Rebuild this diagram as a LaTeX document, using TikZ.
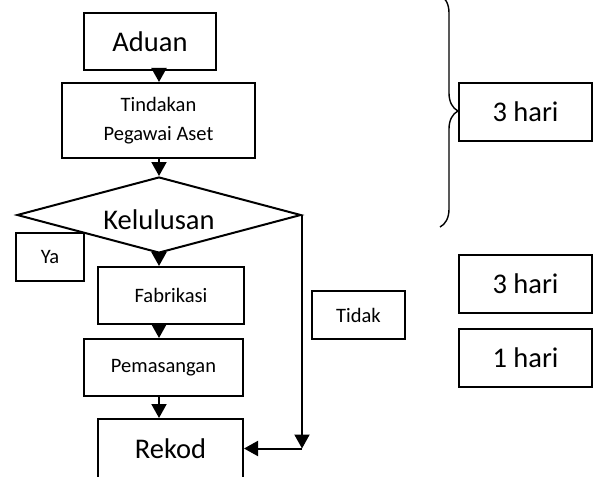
\documentclass[tikz,border=0pt]{standalone}
\usepackage{fontspec}
\setmainfont{Carlito}
\usetikzlibrary{shapes.geometric,arrows.meta,decorations.pathreplacing}

\begin{document}
\begin{tikzpicture}[x=1pt, y=-1pt,
    box/.style = {draw, line width=2pt, inner sep=0pt, align=center},
    big/.style = {font=\fontsize{28.5}{34}\selectfont},
    small/.style = {font=\fontsize{20.5}{29}\selectfont},
    arrow/.style = {line width=2pt, -{Triangle[width=15pt,length=14pt]}}]
        \fill[white] (0,0) rectangle (596,476);
        \useasboundingbox (0,0) rectangle (596,476);
        % flow on the left
        \node[box, big, minimum width=132pt, minimum height=57pt] (aduan) at (150,41.5) {Aduan};
        \node[box, small, minimum width=193pt, minimum height=75pt] (tindakan) at (158.5,120.5) {Tindakan\\Pegawai Aset};
        \node[box, diamond, big, aspect=3.7, minimum width=284pt, minimum height=76pt, text height=30pt] (kelulusan) at (159,215) {Kelulusan};
        \node[box, small, minimum width=68pt, minimum height=48pt] (ya) at (50,257) {Ya};
        \node[box, small, minimum width=146pt, minimum height=57pt] (fabrikasi) at (171,295.5) {Fabrikasi};
        \node[box, small, minimum width=159pt, minimum height=57pt] (pemasangan) at (163.5,367.5) {Pemasangan};
        \node[box, big, minimum width=145pt, minimum height=59pt] (rekod) at (170.5,448.5) {Rekod};
        \node[box, small, minimum width=93pt, minimum height=48pt] (tidak) at (358.5,315) {Tidak};
        \coordinate (turn) at (kelulusan.east |- rekod.east);
        \draw[arrow] (aduan.south -| kelulusan.north) -- (tindakan.north -| kelulusan.north);
        \draw[arrow] (tindakan.south -| kelulusan.north) -- (kelulusan.north);
        \draw[arrow] (kelulusan.south) -- (fabrikasi.north -| kelulusan.south);
        \draw[arrow] (fabrikasi.south -| kelulusan.south) -- (pemasangan.north -| kelulusan.south);
        \draw[arrow] (pemasangan.south -| kelulusan.south) -- (rekod.north -| kelulusan.south);
        \draw[arrow] (kelulusan.east) -- (turn);
        \draw[arrow] (turn) -- (rekod.east);
        % days on the right
        \node[box, big, minimum width=133pt, minimum height=58pt] (hari1) at (525.5,112) {3 hari};
        \node[box, big, minimum width=133pt, minimum height=58pt] (hari2) at (525.5,284) {3 hari};
        \node[box, big, minimum width=133pt, minimum height=58pt] (hari3) at (525.5,358) {1 hari};
        \coordinate (bracetop) at (440,-5);
        \coordinate (bracebot) at (440,227);
        \draw[line width=1.4pt, decorate, decoration={brace, amplitude=18pt}] (bracetop) -- (bracebot);
\end{tikzpicture}
\end{document}
